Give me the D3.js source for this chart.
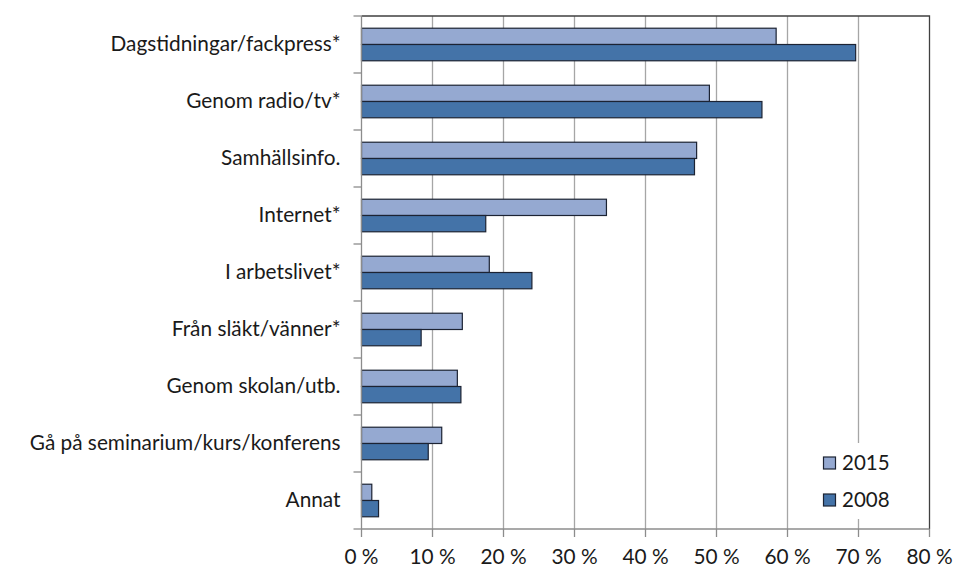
<!DOCTYPE html>
<html><head><meta charset="utf-8">
<script src="https://cdn.jsdelivr.net/npm/d3@7"></script>
<style>body{margin:0;background:#fff}svg text{font-family:"Lato","Open Sans",sans-serif;fill:#1a1a1a}</style>
</head><body><svg id="c" width="956" height="569"></svg>
<script>
const categories = ["Dagstidningar/fackpress*","Genom radio/tv*","Samhällsinfo.","Internet*","I arbetslivet*","Från släkt/vänner*","Genom skolan/utb.","Gå på seminarium/kurs/konferens","Annat"];
const values2015 = [58.4,49.0,47.2,34.5,18.0,14.2,13.5,11.3,1.45];
const values2008 = [69.6,56.4,46.9,17.5,24.0,8.4,14.0,9.4,2.4];
const seriesNames = ["2015","2008"];
const tickValues = [0,10,20,30,40,50,60,70,80];
const colors = ["#95a9d1","#4473a8"];

const svg = d3.select("#c");
const L=361.5,R=929.5,T=16,B=529;
const x = d3.scaleLinear().domain([0,80]).range([L,R]);
const y = d3.scaleBand().domain(categories).range([T,B]);
const inner = d3.scaleBand().domain(seriesNames).range([0,y.bandwidth()]).paddingInner(0).paddingOuter(0.75);

// gridlines
svg.append("g").selectAll("line").data(tickValues.slice(1,-1)).join("line")
  .attr("x1",d=>x(d)).attr("x2",d=>x(d)).attr("y1",T).attr("y2",B)
  .attr("stroke","#a6a6a6").attr("stroke-width",1.3);
// plot border top/right
svg.append("path").attr("d",`M${L},${T}H${R}V${B}`).attr("fill","none").attr("stroke","#404040").attr("stroke-width",1.3);

// bars
const data = categories.map((c,i)=>({c,vals:[values2015[i],values2008[i]]}));
const g = svg.append("g");
data.forEach(d=>{
  d.vals.forEach((v,j)=>{
    g.append("rect").attr("x",x(0)).attr("y",y(d.c)+inner(seriesNames[j]))
     .attr("width",x(v)-x(0)).attr("height",inner.bandwidth())
     .attr("fill",colors[j]).attr("stroke","#1c2333").attr("stroke-width",1.2);
  });
});

// y axis
const ya = svg.append("g").attr("transform",`translate(${L},0)`);
ya.append("line").attr("x1",0).attr("x2",0).attr("y1",T).attr("y2",B).attr("stroke","#8c8c8c").attr("stroke-width",1.3);
const yTicks = d3.range(categories.length+1).map(i=>T+i*y.step());
ya.selectAll(".t").data(yTicks).join("line").attr("x1",-8).attr("x2",0).attr("y1",d=>d).attr("y2",d=>d).attr("stroke","#8c8c8c").attr("stroke-width",1.3);
ya.selectAll("text").data(categories).join("text")
  .attr("x",-21).attr("y",d=>y(d)+y.bandwidth()/2-1).attr("dy","0.35em")
  .attr("text-anchor","end").attr("font-size",20.8).text(d=>d);

// x axis
const xa = svg.append("g").attr("transform",`translate(0,${B})`);
xa.append("line").attr("x1",L).attr("x2",R).attr("stroke","#8c8c8c").attr("stroke-width",1.3);
xa.selectAll("line.t").data(tickValues).join("line").attr("class","t").attr("x1",d=>x(d)).attr("x2",d=>x(d)).attr("y1",0).attr("y2",8).attr("stroke","#8c8c8c").attr("stroke-width",1.3);
xa.selectAll("text").data(tickValues).join("text").attr("x",d=>x(d)).attr("y",28).attr("dy","0.35em")
  .attr("text-anchor","middle").attr("font-size",20.8).text(d=>d+" %");

// legend
const lg = svg.append("g");
lg.append("rect").attr("x",815).attr("y",443).attr("width",108).attr("height",76).attr("fill","#fff");
seriesNames.forEach((s,i)=>{
  const cy = 463+i*37;
  lg.append("rect").attr("x",823.5).attr("y",cy-6).attr("width",12).attr("height",12).attr("fill",colors[i]).attr("stroke","#1c2333").attr("stroke-width",1.2);
  lg.append("text").attr("x",842).attr("y",cy).attr("dy","0.35em").attr("font-size",20.5).text(s);
});
</script></body></html>
